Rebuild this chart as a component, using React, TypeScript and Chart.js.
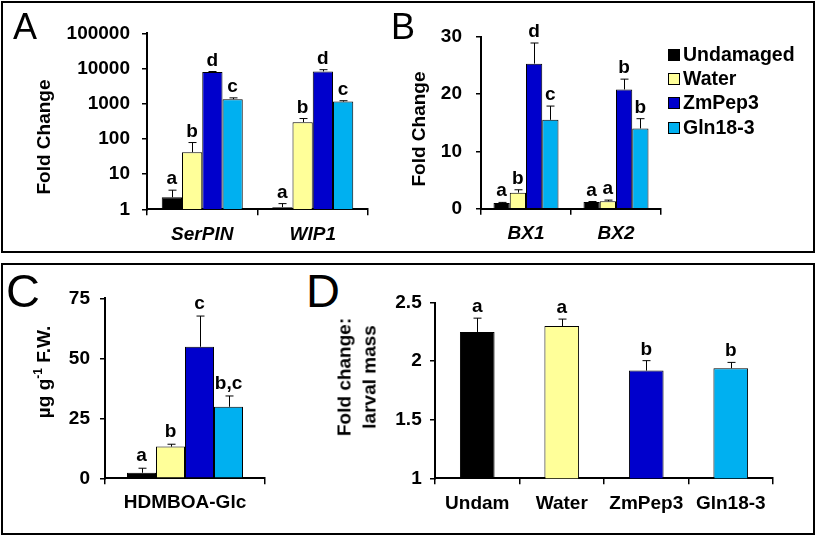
import React, { useEffect, useRef } from 'react';
import { Chart, registerables } from 'chart.js';

Chart.register(...registerables);

const FONT = '"Liberation Sans", Arial, Helvetica, sans-serif';

// Treatments shared by panels A-C (legend)
const treatments = ['Undamaged', 'Water', 'ZmPep3', 'Gln18-3'];
const treatmentColors = ['#000000', '#FFFF99', '#0000CC', '#00B0F0'];

// Panel A (log scale)
const aGenes = ['SerPIN', 'WIP1'];
const aTicks = [1, 10, 100, 1000, 10000, 100000];
const aUndamaged = [2.2, 1.15];
const aWater = [42, 300];
const aZmPep3 = [8000, 8300];
const aGln18 = [1350, 1150];
const aUndamagedSE = [1.3, 0.3];
const aWaterSE = [37, 80];
const aZmPep3SE = [250, 1000];
const aGln18SE = [120, 70];
const aUndamagedSig = ['a', 'a'];
const aWaterSig = ['b', 'b'];
const aZmPep3Sig = ['d', 'd'];
const aGln18Sig = ['c', 'c'];

// Panel B
const bGenes = ['BX1', 'BX2'];
const bTicks = [0, 10, 20, 30];
const bUndamaged = [1.0, 1.15];
const bWater = [2.8, 1.3];
const bZmPep3 = [25.3, 20.8];
const bGln18 = [15.5, 14.0];
const bUndamagedSE = [0.1, 0.1];
const bWaterSE = [0.5, 0.2];
const bZmPep3SE = [3.6, 1.8];
const bGln18SE = [2.4, 1.7];
const bUndamagedSig = ['a', 'a'];
const bWaterSig = ['b', 'a'];
const bZmPep3Sig = ['d', 'b'];
const bGln18Sig = ['c', 'b'];

// Panel C
const cCompound = ['HDMBOA-Glc'];
const cTicks = [0, 25, 50, 75];
const cUndamaged = [2.3];
const cWater = [13.2];
const cZmPep3 = [54.8];
const cGln18 = [29.8];
const cUndamagedSE = [1.9];
const cWaterSE = [1.0];
const cZmPep3SE = [12.8];
const cGln18SE = [4.5];
const cUndamagedSig = ['a'];
const cWaterSig = ['b'];
const cZmPep3Sig = ['c'];
const cGln18Sig = ['b,c'];

// Panel D
const dTreatments = ['Undam', 'Water', 'ZmPep3', 'Gln18-3'];
const dTicks = [1, 1.5, 2, 2.5];
const dMass = [2.25, 2.3, 1.92, 1.94];
const dMassSE = [0.118, 0.06, 0.085, 0.05];
const dSig = ['a', 'a', 'b', 'b'];

function series(label: string, color: any, data: number[], se: number[], sig: string[]) {
  return { label, data, backgroundColor: color, errors: se, letters: sig };
}

function errorLetterPlugin(gap: number) {
  return {
    id: 'errLetters',
    afterDatasetsDraw(chart: any) {
      const ctx = chart.ctx;
      const yScale = chart.scales.y;
      chart.data.datasets.forEach((ds: any, di: number) => {
        const meta = chart.getDatasetMeta(di);
        meta.data.forEach((bar: any, i: number) => {
          const v = ds.data[i];
          const e = ds.errors ? ds.errors[i] : 0;
          const x = Math.round(bar.x) + 0.5;
          const yTop = yScale.getPixelForValue(v + e);
          ctx.save();
          ctx.strokeStyle = '#000';
          ctx.lineWidth = 1;
          if (e > 0) {
            ctx.beginPath();
            ctx.moveTo(x, bar.y);
            ctx.lineTo(x, yTop);
            ctx.moveTo(x - 4, yTop);
            ctx.lineTo(x + 4, yTop);
            ctx.stroke();
          }
          const label = ds.letters ? ds.letters[i] : '';
          if (label) {
            ctx.fillStyle = '#000';
            ctx.font = `bold 19px ${FONT}`;
            ctx.textAlign = 'center';
            ctx.textBaseline = 'alphabetic';
            ctx.fillText(label, bar.x, yTop - gap);
          }
          ctx.restore();
        });
      });
    },
  };
}

type Spec = {
  labels: string[];
  datasets: any[];
  yType: 'linear' | 'logarithmic';
  yMin: number;
  yMax: number;
  yTicks: number[];
  yWidth: number;
  xHeight: number;
  padTop: number;
  padRight: number;
  yTickPad: number;
  xLabelPad: number;
  italic: boolean;
  catPct: number;
  gap: number;
};

function buildConfig(s: Spec): any {
  const lineCol = '#000';
  return {
    type: 'bar',
    data: { labels: s.labels, datasets: s.datasets },
    options: {
      animation: false,
      responsive: false,
      devicePixelRatio: 1,
      events: [],
      layout: { padding: { left: 0, right: s.padRight, top: s.padTop, bottom: 0 } },
      plugins: { legend: { display: false }, tooltip: { enabled: false } },
      datasets: {
        bar: {
          categoryPercentage: s.catPct,
          barPercentage: 1,
          borderWidth: 1,
          borderColor: '#000',
          borderSkipped: 'start',
        },
      },
      scales: {
        x: {
          afterFit: (scale: any) => {
            scale.height = s.xHeight;
          },
          border: { display: true, color: lineCol, width: 2 },
          grid: {
            display: true,
            offset: true,
            drawOnChartArea: false,
            drawTicks: true,
            tickLength: 6,
            color: lineCol,
            lineWidth: 1.5,
          },
          ticks: {
            color: '#000',
            padding: s.xLabelPad,
            maxRotation: 0,
            minRotation: 0,
            autoSkip: false,
            font: { family: FONT, size: 19, weight: 'bold', style: s.italic ? 'italic' : 'normal' },
          },
        },
        y: {
          type: s.yType,
          min: s.yMin,
          max: s.yMax,
          afterFit: (scale: any) => {
            scale.width = s.yWidth;
          },
          afterBuildTicks: (scale: any) => {
            scale.ticks = s.yTicks.map((v) => ({ value: v }));
          },
          border: { display: true, color: lineCol, width: 2 },
          grid: {
            display: true,
            drawOnChartArea: false,
            drawTicks: true,
            tickLength: 5,
            color: lineCol,
            lineWidth: 1.5,
          },
          ticks: {
            color: '#000',
            padding: s.yTickPad,
            font: { family: FONT, size: 19, weight: 'bold' },
            callback: (v: any) => String(v),
          },
        },
      },
    },
    plugins: [errorLetterPlugin(s.gap)],
  };
}

const specA: Spec = {
  labels: aGenes,
  datasets: [
    series(treatments[0], treatmentColors[0], aUndamaged, aUndamagedSE, aUndamagedSig),
    series(treatments[1], treatmentColors[1], aWater, aWaterSE, aWaterSig),
    series(treatments[2], treatmentColors[2], aZmPep3, aZmPep3SE, aZmPep3Sig),
    series(treatments[3], treatmentColors[3], aGln18, aGln18SE, aGln18Sig),
  ],
  yType: 'logarithmic',
  yMin: 1,
  yMax: 100000,
  yTicks: aTicks,
  yWidth: 127,
  xHeight: 40.7,
  padTop: 23,
  padRight: 12,
  yTickPad: 12,
  xLabelPad: 7.8,
  italic: true,
  catPct: 0.733,
  gap: 6,
};

const specB: Spec = {
  labels: bGenes,
  datasets: [
    series(treatments[0], treatmentColors[0], bUndamaged, bUndamagedSE, bUndamagedSig),
    series(treatments[1], treatmentColors[1], bWater, bWaterSE, bWaterSig),
    series(treatments[2], treatmentColors[2], bZmPep3, bZmPep3SE, bZmPep3Sig),
    series(treatments[3], treatmentColors[3], bGln18, bGln18SE, bGln18Sig),
  ],
  yType: 'linear',
  yMin: 0,
  yMax: 30,
  yTicks: bTicks,
  yWidth: 86,
  xHeight: 41.3,
  padTop: 26.7,
  padRight: 11,
  yTickPad: 14,
  xLabelPad: 7.2,
  italic: true,
  catPct: 0.722,
  gap: 6,
};

const specC: Spec = {
  labels: cCompound,
  datasets: [
    series(treatments[0], treatmentColors[0], cUndamaged, cUndamagedSE, cUndamagedSig),
    series(treatments[1], treatmentColors[1], cWater, cWaterSE, cWaterSig),
    series(treatments[2], treatmentColors[2], cZmPep3, cZmPep3SE, cZmPep3Sig),
    series(treatments[3], treatmentColors[3], cGln18, cGln18SE, cGln18Sig),
  ],
  yType: 'linear',
  yMin: 0,
  yMax: 75,
  yTicks: cTicks,
  yWidth: 65,
  xHeight: 51.7,
  padTop: 30.3,
  padRight: 15,
  yTickPad: 10,
  xLabelPad: 7,
  italic: false,
  catPct: 0.725,
  gap: 7,
};

const specD: Spec = {
  labels: dTreatments,
  datasets: [series('Larval mass', treatmentColors, dMass, dMassSE, dSig)],
  yType: 'linear',
  yMin: 1,
  yMax: 2.5,
  yTicks: dTicks,
  yWidth: 55,
  xHeight: 51.7,
  padTop: 34.7,
  padRight: 15,
  yTickPad: 8.3,
  xLabelPad: 7.6,
  italic: false,
  catPct: 0.41,
  gap: 6,
};

function ChartCanvas(props: { left: number; top: number; width: number; height: number; spec: Spec }) {
  const ref = useRef<HTMLCanvasElement>(null);
  useEffect(() => {
    const chart = new Chart(ref.current as HTMLCanvasElement, buildConfig(props.spec));
    return () => chart.destroy();
  }, []);
  return (
    <canvas
      ref={ref}
      width={props.width}
      height={props.height}
      style={{ position: 'absolute', left: props.left, top: props.top, width: props.width, height: props.height }}
    />
  );
}

function PanelLetter(props: { left: number; top: number; size: number; children: any }) {
  return (
    <div
      style={{
        position: 'absolute',
        left: props.left,
        top: props.top,
        font: `${props.size}px ${FONT}`,
        lineHeight: `${props.size}px`,
        color: '#000',
      }}
    >
      {props.children}
    </div>
  );
}

function VTitle(props: { cx: number; cy: number; lineHeight?: number; children: any }) {
  return (
    <div
      style={{
        position: 'absolute',
        left: props.cx,
        top: props.cy,
        transform: 'translate(-50%, -50%) rotate(-90deg)',
        whiteSpace: 'nowrap',
        font: `bold 19px ${FONT}`,
        lineHeight: `${props.lineHeight || 19}px`,
        textAlign: 'center',
        color: '#000',
      }}
    >
      {props.children}
    </div>
  );
}

export default function App() {
  return (
    <div
      style={{
        position: 'absolute',
        left: 0,
        top: 0,
        width: 816,
        height: 536,
        background: '#fff',
        overflow: 'hidden',
      }}
    >
      <div
        style={{
          position: 'absolute',
          left: 1,
          top: 1,
          width: 814,
          height: 252,
          border: '2px solid #000',
          boxSizing: 'border-box',
        }}
      />
      <div
        style={{
          position: 'absolute',
          left: 1,
          top: 263,
          width: 814,
          height: 272,
          border: '2px solid #000',
          boxSizing: 'border-box',
        }}
      />

      <ChartCanvas left={20} top={10} width={360} height={240} spec={specA} />
      <ChartCanvas left={395} top={10} width={277} height={240} spec={specB} />
      <ChartCanvas left={40} top={268} width={240} height={262} spec={specC} />
      <ChartCanvas left={380} top={268} width={408} height={262} spec={specD} />

      <PanelLetter left={13} top={8.6} size={36}>A</PanelLetter>
      <PanelLetter left={391} top={8.6} size={36}>B</PanelLetter>
      <PanelLetter left={6} top={267} size={47}>C</PanelLetter>
      <PanelLetter left={306} top={267} size={47}>D</PanelLetter>

      <VTitle cx={42.8} cy={137}>Fold Change</VTitle>
      <VTitle cx={417.5} cy={129}>Fold Change</VTitle>
      <VTitle cx={43.3} cy={371.7}>
        µg g<sup style={{ fontSize: 12, lineHeight: 0, verticalAlign: 'super' }}>-1</sup> F.W.
      </VTitle>
      <VTitle cx={357.3} cy={377} lineHeight={24.5}>
        Fold change:
        <br />
        larval mass
      </VTitle>

      {treatments.map((name, i) => (
        <div
          key={name}
          style={{
            position: 'absolute',
            left: 668,
            top: 42 + i * 24.2,
            height: 24,
            display: 'flex',
            alignItems: 'center',
            whiteSpace: 'nowrap',
          }}
        >
          <span
            style={{
              display: 'inline-block',
              width: 12,
              height: 12,
              background: treatmentColors[i],
              border: '1px solid #000',
              boxSizing: 'border-box',
              marginRight: 3,
              marginTop: 2,
            }}
          />
          <span style={{ font: `bold 19.5px ${FONT}`, lineHeight: '24px', color: '#000' }}>{name}</span>
        </div>
      ))}
    </div>
  );
}
